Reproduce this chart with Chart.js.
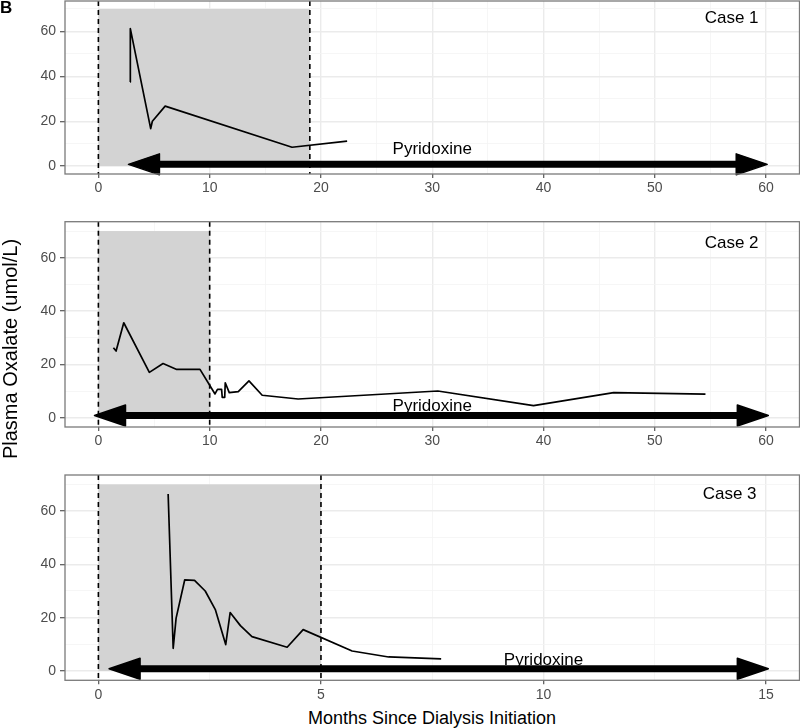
<!DOCTYPE html>
<html>
<head>
<meta charset="utf-8">
<script src="https://cdn.jsdelivr.net/npm/chart.js@4.4.1/dist/chart.umd.min.js"></script>
<style>
    body { margin: 0; width: 800px; height: 728px; position: relative; background: #fff; overflow: hidden;
           font-family: "Liberation Sans", Arial, sans-serif; }
    canvas { position: absolute; left: 0; }
    .txt { position: absolute; white-space: nowrap; color: #000; }
</style>
</head>
<body>
<canvas id="case1" width="800" height="200" style="top:0px"></canvas>
<canvas id="case2" width="800" height="240" style="top:212px"></canvas>
<canvas id="case3" width="800" height="240" style="top:465px"></canvas>
<div class="txt" style="left:0; top:-2px; font-size:17px; font-weight:bold;">B</div>
<div class="txt" style="left:10px; top:349px; font-size:20px; transform:translate(-50%,-50%) rotate(-90deg);">Plasma Oxalate (umol/L)</div>
<div class="txt" style="left:432px; top:718px; font-size:18px; transform:translate(-50%,-50%);">Months Since Dialysis Initiation</div>
<script>
// values (months, umol/L)
const case1Months = [2.85, 2.87, 4.7, 4.85, 6.0, 17.4, 22.35];
const case1Oxalate = [37.5, 61.2, 16.7, 20.0, 26.7, 8.4, 11.1];

const case2Months = [1.35, 1.59, 2.28, 4.58, 5.81, 7.04, 9.13, 10.48, 10.7, 11.07, 11.13, 11.35, 11.4, 11.76, 12.57, 13.53, 14.72, 17.95, 30.5, 39.1, 46.3, 54.55];
const case2Oxalate = [26.2, 25.0, 35.6, 17.0, 20.3, 18.1, 18.1, 8.9, 10.6, 10.6, 7.6, 7.6, 13.1, 9.4, 9.8, 13.8, 8.4, 7.0, 10.0, 4.5, 9.4, 8.8];

const case3Months = [1.567, 1.68, 1.746, 1.94, 2.16, 2.40, 2.63, 2.86, 2.96, 3.19, 3.45, 4.24, 4.6, 5.7, 6.52, 7.7];
const case3Oxalate = [66.4, 8.5, 19.8, 34.2, 34.0, 30.0, 22.9, 9.9, 21.9, 17.0, 12.9, 8.9, 15.5, 7.5, 5.25, 4.5];

// dialysis period (shaded) end, pyridoxine arrow start/end
const dialysisEnd = [19, 10, 5];
const pyridoxineStart = [2.7, -0.35, 0.24];
const pyridoxineEnd = [60.1, 60.2, 15.05];

const caseLabels = ['Case 1', 'Case 2', 'Case 3'];

const xMajor60 = [0, 10, 20, 30, 40, 50, 60];
const xMinor60 = [5, 15, 25, 35, 45, 55];
const xMajor15 = [0, 5, 10, 15];
const xMinor15 = [2.5, 7.5, 12.5];
const yMajor = [0, 20, 40, 60];
const yMinor = [10, 30, 50, 70];

const FONT = '"Liberation Sans", Arial, sans-serif';

const decorPlugin = {
    id: 'decor',
    beforeDatasetsDraw(chart, args, o) {
        const { ctx, chartArea: a, scales: { x, y } } = chart;
        ctx.save();
        ctx.fillStyle = '#d3d3d3';
        const x0 = x.getPixelForValue(0), x1 = x.getPixelForValue(o.shadeEnd);
        const y0 = y.getPixelForValue(0), y1 = y.getPixelForValue(70);
        ctx.fillRect(x0, y1, x1 - x0, y0 - y1);
        // dashed vertical lines
        ctx.strokeStyle = '#000';
        ctx.lineWidth = 1.6;
        ctx.setLineDash([5, 4]);
        [0, o.shadeEnd].forEach(v => {
            const px = x.getPixelForValue(v);
            ctx.beginPath();
            ctx.moveTo(px, a.top);
            ctx.lineTo(px, a.bottom);
            ctx.stroke();
        });
        ctx.restore();
    },
    afterDatasetsDraw(chart, args, o) {
        const { ctx, scales: { x, y } } = chart;
        ctx.save();
        const xa = x.getPixelForValue(o.arrow[0]);
        const xb = x.getPixelForValue(o.arrow[1]);
        const ya = y.getPixelForValue(o.arrowY);
        const L = 31, H = 10.5;
        ctx.strokeStyle = '#000';
        ctx.fillStyle = '#000';
        ctx.lineWidth = 7;
        ctx.beginPath();
        ctx.moveTo(xa + L - 2, ya);
        ctx.lineTo(xb - L + 2, ya);
        ctx.stroke();
        ctx.lineWidth = 1.5;
        ctx.lineJoin = 'round';
        ctx.beginPath();
        ctx.moveTo(xa, ya); ctx.lineTo(xa + L, ya - H); ctx.lineTo(xa + L, ya + H); ctx.closePath();
        ctx.fill(); ctx.stroke();
        ctx.beginPath();
        ctx.moveTo(xb, ya); ctx.lineTo(xb - L, ya - H); ctx.lineTo(xb - L, ya + H); ctx.closePath();
        ctx.fill(); ctx.stroke();

        ctx.font = '17px ' + FONT;
        ctx.textAlign = 'center';
        ctx.textBaseline = 'alphabetic';
        ctx.fillText('Pyridoxine', x.getPixelForValue(o.pyrPos[0]), y.getPixelForValue(o.pyrPos[1]));
        ctx.fillText(o.caseLabel, x.getPixelForValue(o.casePos[0]), y.getPixelForValue(o.casePos[1]));
        ctx.restore();
    },
    afterDraw(chart) {
        const { ctx, chartArea: a } = chart;
        ctx.save();
        ctx.strokeStyle = '#7a7a7a';
        ctx.lineWidth = 1.3;
        ctx.strokeRect(a.left, a.top, a.right - a.left, a.bottom - a.top);
        ctx.restore();
    }
};

function makePanel(id, months, oxalate, opts) {
    const xTicks = opts.xMajor.concat(opts.xMinor).sort((p, q) => p - q);
    const yTicks = yMajor.concat(yMinor).sort((p, q) => p - q);
    const isMajorX = v => opts.xMajor.includes(v);
    const isMajorY = v => yMajor.includes(v);

    return new Chart(document.getElementById(id), {
        type: 'line',
        data: {
            datasets: [{
                data: months.map((m, i) => ({ x: m, y: oxalate[i] })),
                borderColor: '#000',
                borderWidth: 1.7,
                borderJoinStyle: 'round',
                borderCapStyle: 'butt',
                pointRadius: 0,
                tension: 0,
                fill: false
            }]
        },
        options: {
            responsive: false,
            animation: false,
            devicePixelRatio: 1,
            layout: { padding: { top: opts.padTop, left: 0, right: 0.5, bottom: 0 } },
            plugins: {
                legend: { display: false },
                tooltip: { enabled: false },
                decor: {
                    shadeEnd: opts.shadeEnd,
                    arrow: opts.arrow,
                    arrowY: 0.8,
                    pyrPos: opts.pyrPos,
                    caseLabel: opts.caseLabel,
                    casePos: opts.casePos
                }
            },
            scales: {
                x: {
                    type: 'linear',
                    min: opts.xMin,
                    max: opts.xMax,
                    afterBuildTicks: s => { s.ticks = xTicks.map(v => ({ value: v })); },
                    afterFit: s => {
                        s.height = opts.xAxisHeight;
                        s.paddingLeft = 0;
                        s.paddingRight = 0;
                    },
                    border: { display: false },
                    grid: {
                        color: c => isMajorX(c.tick.value) ? '#ebebeb' : '#f4f4f4',
                        lineWidth: c => isMajorX(c.tick.value) ? 1.4 : 0.8,
                        tickColor: c => isMajorX(c.tick.value) ? '#555' : 'rgba(0,0,0,0)',
                        tickLength: 4,
                        tickWidth: 1.2
                    },
                    ticks: {
                        autoSkip: false,
                        maxRotation: 0,
                        padding: 2,
                        color: '#4d4d4d',
                        font: { family: FONT, size: 14 },
                        callback: v => isMajorX(v) ? String(v) : ''
                    }
                },
                y: {
                    type: 'linear',
                    min: -3.5,
                    max: 73.5,
                    afterBuildTicks: s => { s.ticks = yTicks.map(v => ({ value: v })); },
                    afterFit: s => {
                        s.width = 65;
                        s.paddingTop = 0;
                        s.paddingBottom = 0;
                    },
                    border: { display: false },
                    grid: {
                        color: c => isMajorY(c.tick.value) ? '#ebebeb' : '#f4f4f4',
                        lineWidth: c => isMajorY(c.tick.value) ? 1.4 : 0.8,
                        tickColor: c => isMajorY(c.tick.value) ? '#555' : 'rgba(0,0,0,0)',
                        tickLength: 5,
                        tickWidth: 1.2
                    },
                    ticks: {
                        autoSkip: false,
                        padding: 4,
                        color: '#4d4d4d',
                        font: { family: FONT, size: 14 },
                        callback: v => isMajorY(v) ? String(v) : ''
                    }
                }
            }
        },
        plugins: [decorPlugin]
    });
}

makePanel('case1', case1Months, case1Oxalate, {
    xMin: -3, xMax: 63, xMajor: xMajor60, xMinor: xMinor60,
    padTop: 1, xAxisHeight: 26,
    shadeEnd: dialysisEnd[0], arrow: [pyridoxineStart[0], pyridoxineEnd[0]],
    pyrPos: [30, 5.3], caseLabel: caseLabels[0], casePos: [56.9, 63.5]
});

makePanel('case2', case2Months, case2Oxalate, {
    xMin: -3, xMax: 63, xMajor: xMajor60, xMinor: xMinor60,
    padTop: 9.7, xAxisHeight: 25,
    shadeEnd: dialysisEnd[1], arrow: [pyridoxineStart[1], pyridoxineEnd[1]],
    pyrPos: [30, 2.5], caseLabel: caseLabels[1], casePos: [56.9, 63.8]
});

makePanel('case3', case3Months, case3Oxalate, {
    xMin: -0.75, xMax: 15.75, xMajor: xMajor15, xMinor: xMinor15,
    padTop: 10, xAxisHeight: 24.7,
    shadeEnd: dialysisEnd[2], arrow: [pyridoxineStart[2], pyridoxineEnd[2]],
    pyrPos: [10, 2.3], caseLabel: caseLabels[2], casePos: [14.18, 64.5]
});
</script>
</body>
</html>
